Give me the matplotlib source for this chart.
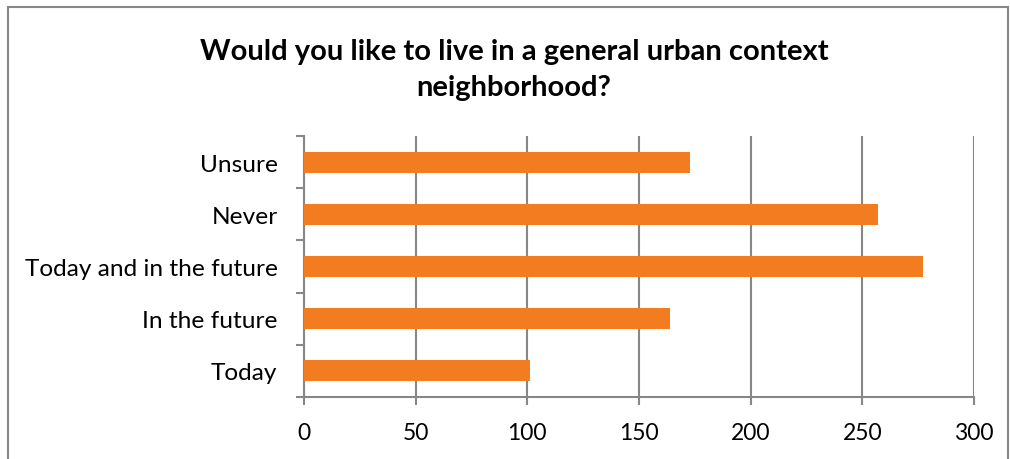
import matplotlib
matplotlib.use('Agg')
import matplotlib.pyplot as plt
from matplotlib.patches import Rectangle

categories = ['Today', 'In the future', 'Today and in the future', 'Never', 'Unsure']
counts = [101, 164, 277, 257, 173]
xticks = [0, 50, 100, 150, 200, 250, 300]

plt.rcParams['font.family'] = ['Lato', 'DejaVu Sans']

fig = plt.figure(figsize=(10.1, 4.6), dpi=100)
ax = fig.add_axes([304/1010, 1 - 398/460, 670/1010, 261/460])

ypos = list(range(len(categories)))
ax.barh(ypos, counts, height=0.4, color='#F47C20', zorder=3)

ax.set_xlim(0, 300)
ax.set_ylim(-0.5, len(categories) - 0.5)
ax.set_xticks(xticks)
ax.set_xticklabels([str(v) for v in xticks], fontsize=16.5)
ax.set_yticks(ypos)
ax.set_yticklabels(categories, fontsize=17.6)
ax.set_yticks([i - 0.5 for i in range(len(categories) + 1)], minor=True)

gray = '#878787'
ax.grid(axis='x', color=gray, linewidth=1.5, zorder=0)
ax.tick_params(axis='y', which='major', length=0, pad=19)
ax.tick_params(axis='y', which='minor', length=6, width=1.5, color=gray)
ax.tick_params(axis='x', length=6, width=1.5, color=gray, pad=12)
for s in ['top', 'right']:
    ax.spines[s].set_visible(False)
for s in ['left', 'bottom']:
    ax.spines[s].set_color(gray)
    ax.spines[s].set_linewidth(1.5)

fig.text(0.509, 1 - 70/460, 'Would you like to live in a general urban context\nneighborhood?',
         ha='center', va='center', fontsize=21, fontweight='bold', linespacing=1.5)

fig.patches.append(Rectangle((8/1010, -0.1), 1000/1010, 1.1 - 8/460,
                             transform=fig.transFigure, fill=False,
                             edgecolor=gray, linewidth=1.5))

fig.savefig('out.png', dpi=100)
